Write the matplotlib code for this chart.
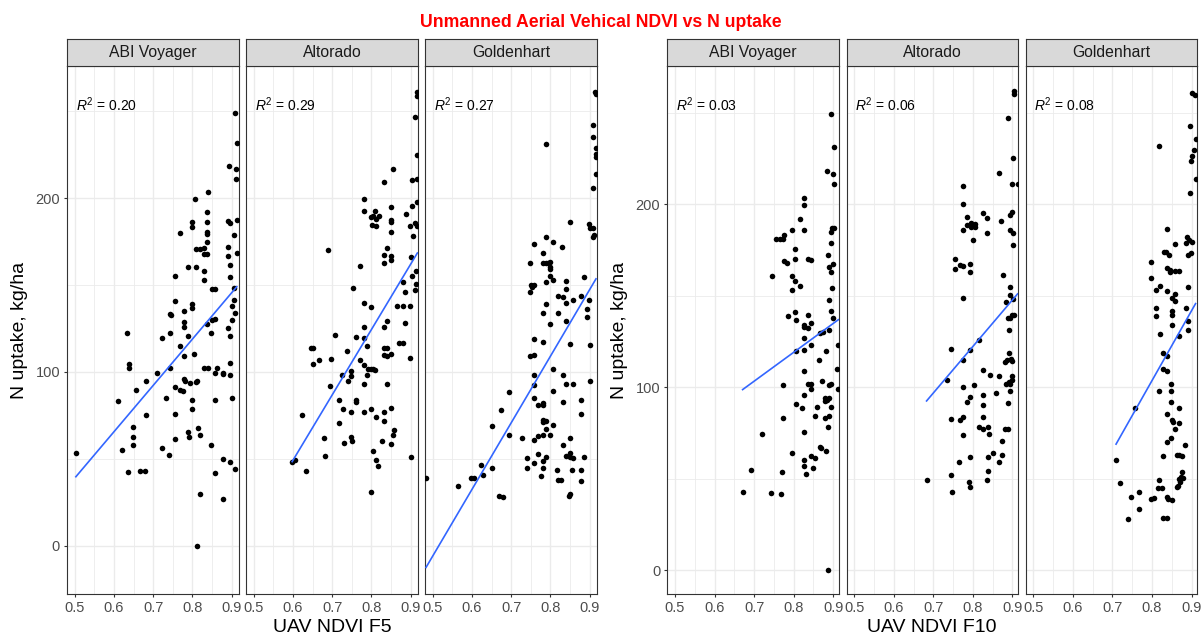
import matplotlib
matplotlib.use("Agg")
import matplotlib.pyplot as plt
import numpy as np

plt.rcParams['font.family'] = ['Liberation Sans', 'DejaVu Sans']
plt.rcParams['mathtext.fontset'] = 'custom'
plt.rcParams['mathtext.rm'] = 'Liberation Sans'
plt.rcParams['mathtext.it'] = 'Liberation Sans:italic'

cultivars = ['ABI Voyager', 'Altorado', 'Goldenhart']
r2_f5 = ['0.20', '0.29', '0.27']
r2_f10 = ['0.03', '0.06', '0.08']
x_ticks = [0.5, 0.6, 0.7, 0.8, 0.9]
x_tick_labels = ['0.5', '0.6', '0.7', '0.8', '0.9']
x_minor = [0.55, 0.65, 0.75, 0.85]
y_ticks = [0, 100, 200]
y_minor = [50, 150, 250]

# fitted N uptake at the lowest / highest NDVI of each cultivar (lm line)
fit_f5_lo = [39.7, 48.4, -12.5]
fit_f5_hi = [149.1, 168.5, 153.6]
fit_f10_lo = [98.6, 92.4, 68.8]
fit_f10_hi = [136.8, 150.9, 145.6]

# ---- NDVI at F5 vs N uptake (kg/ha) ----
abi_f5_ndvi = [0.908, 0.913, 0.894, 0.911, 0.911, 0.839, 0.807, 0.838, 0.891, 0.895,
               0.913, 0.798, 0.798, 0.836, 0.769, 0.836, 0.836, 0.907, 0.838, 0.890,
               0.808, 0.819, 0.830, 0.838, 0.830, 0.913, 0.890, 0.789, 0.808, 0.896,
               0.830, 0.756, 0.895, 0.830, 0.850, 0.858, 0.907, 0.756, 0.907, 0.798,
               0.798, 0.779, 0.902, 0.909, 0.743, 0.745, 0.779, 0.779, 0.850, 0.858,
               0.902, 0.838, 0.890, 0.634, 0.743, 0.722, 0.789, 0.848, 0.895, 0.769,
               0.779, 0.805, 0.638, 0.638, 0.709, 0.743, 0.830, 0.839, 0.863, 0.878,
               0.878, 0.895, 0.895, 0.858, 0.682, 0.779, 0.782, 0.793, 0.810, 0.812,
               0.657, 0.756, 0.768, 0.775, 0.611, 0.733, 0.798, 0.857, 0.902, 0.682,
               0.756, 0.798, 0.649, 0.649, 0.815, 0.789, 0.791, 0.820, 0.756, 0.649,
               0.620, 0.722, 0.848, 0.503, 0.740, 0.878, 0.895, 0.909, 0.637, 0.666,
               0.680, 0.858, 0.820, 0.878, 0.811]
abi_f5_n = [249.3, 231.7, 218.6, 216.7, 211, 203.8, 199.4, 191.9, 187, 185.6,
            187.4, 186.5, 183.6, 186.5, 180.2, 180.8, 179.4, 179, 175, 171.7,
            170.6, 170.8, 171.2, 168, 168, 168.3, 166.5, 160.6, 160.6, 161.6,
            158, 155, 154.5, 153, 147.6, 147.6, 148.5, 141, 141.2, 139,
            137, 135.2, 137.9, 134.2, 133.5, 133, 129, 125.8, 129.8, 130.4,
            129.8, 127.5, 125.6, 122.3, 122.7, 119.5, 120.7, 122.7, 120.9, 114.8,
            109.2, 110.2, 104.4, 102.5, 99.4, 102.5, 102.2, 102.2, 102.5, 99.6,
            98.6, 105.4, 98.4, 99.2, 94.8, 96, 94.6, 93.5, 94, 95,
            89.6, 91.5, 89.6, 89, 83.3, 84.8, 83.9, 83.9, 84.8, 75.2,
            75.8, 78.9, 68.2, 62.8, 67.6, 65.3, 62.4, 63.7, 61.2, 57.8,
            55.1, 56.2, 57.8, 53.5, 52.4, 49.7, 48, 44, 42.3, 42.8,
            42.8, 41.7, 29.8, 27, 0]

alt_f5_ndvi = [0.917, 0.915, 0.910, 0.915, 0.856, 0.903, 0.915, 0.832, 0.781, 0.851,
               0.915, 0.904, 0.887, 0.781, 0.809, 0.800, 0.805, 0.811, 0.820, 0.801,
               0.811, 0.851, 0.851, 0.851, 0.898, 0.910, 0.915, 0.907, 0.690, 0.840,
               0.832, 0.832, 0.851, 0.851, 0.902, 0.771, 0.914, 0.754, 0.881, 0.903,
               0.914, 0.885, 0.910, 0.781, 0.798, 0.864, 0.881, 0.898, 0.885, 0.832,
               0.840, 0.781, 0.707, 0.760, 0.781, 0.870, 0.881, 0.788, 0.832, 0.840,
               0.645, 0.651, 0.898, 0.832, 0.840, 0.851, 0.651, 0.666, 0.696, 0.738,
               0.771, 0.781, 0.792, 0.798, 0.805, 0.810, 0.788, 0.725, 0.749, 0.747,
               0.741, 0.840, 0.781, 0.694, 0.717, 0.760, 0.760, 0.728, 0.747, 0.781,
               0.800, 0.811, 0.832, 0.851, 0.622, 0.717, 0.832, 0.679, 0.750, 0.748,
               0.858, 0.855, 0.730, 0.826, 0.851, 0.681, 0.805, 0.811, 0.817, 0.902,
               0.598, 0.606, 0.634, 0.800]
alt_f5_n = [261, 258.7, 247, 224.7, 217, 210.5, 211, 209.4, 199.5, 195,
            198, 195.7, 191, 192.7, 192.9, 189, 190, 188, 190, 184.5,
            184, 187.4, 186.3, 180.8, 184, 186, 184, 178, 170, 171.6,
            167.6, 162.8, 167, 164.3, 166, 160.8, 158.4, 148.5, 152, 155,
            150.7, 146, 147, 139.7, 137.3, 138, 138, 138, 128, 126,
            129.6, 126, 121, 120.4, 119.3, 116.6, 116.6, 115, 114, 114,
            114, 114, 108, 110, 109, 110.5, 104.6, 107, 107.6, 112,
            106.8, 104, 102, 102, 102, 101, 98.4, 98.4, 100.6, 97.8,
            95, 93, 93, 91.8, 83.7, 84, 83, 78.6, 77, 77,
            78.6, 74, 76.9, 79, 75, 70.7, 71.6, 62, 60, 62.6,
            66.5, 64, 59.3, 60, 58.4, 51.8, 54.5, 49.6, 45.7, 51.2,
            47.9, 49.4, 42.8, 31]

gold_f5_ndvi = [0.914, 0.916, 0.908, 0.908, 0.915, 0.915, 0.915, 0.789, 0.915, 0.908,
                0.850, 0.897, 0.901, 0.908, 0.908, 0.911, 0.759, 0.789, 0.807, 0.830,
                0.780, 0.748, 0.780, 0.789, 0.795, 0.799, 0.799, 0.799, 0.799, 0.750,
                0.752, 0.759, 0.748, 0.789, 0.807, 0.840, 0.840, 0.886, 0.818, 0.831,
                0.840, 0.858, 0.878, 0.897, 0.892, 0.892, 0.780, 0.789, 0.818, 0.799,
                0.840, 0.850, 0.780, 0.900, 0.759, 0.748, 0.759, 0.807, 0.759, 0.831,
                0.900, 0.695, 0.858, 0.840, 0.807, 0.759, 0.759, 0.878, 0.769, 0.780,
                0.780, 0.831, 0.674, 0.878, 0.780, 0.780, 0.789, 0.789, 0.807, 0.650,
                0.695, 0.727, 0.759, 0.769, 0.780, 0.799, 0.850, 0.831, 0.769, 0.740,
                0.740, 0.759, 0.780, 0.780, 0.789, 0.840, 0.850, 0.850, 0.858, 0.886,
                0.623, 0.650, 0.776, 0.816, 0.818, 0.827, 0.854, 0.878, 0.878, 0.598,
                0.604, 0.629, 0.564, 0.483, 0.669, 0.680, 0.846, 0.850]
gold_f5_n = [261, 260, 242.3, 235, 229, 225.4, 223.6, 231.3, 213.7, 206,
             186.3, 185, 183, 183, 177.5, 178.6, 173.8, 177.5, 174.6, 172,
             168.3, 163, 163, 163, 162.5, 163.5, 160.4, 159.5, 155.5, 150,
             149, 150, 146, 151.6, 152.7, 152.2, 147.8, 154.4, 143.9, 143,
             139.7, 141.3, 144, 141.3, 136.2, 131.8, 134.2, 139, 134.2, 127.9,
             129.2, 116, 117, 115.6, 118.8, 109, 110, 102, 98.4, 98.4,
             95, 88.5, 93, 93, 89.2, 92.3, 85.2, 84, 81, 81,
             82, 82.6, 78, 75.8, 72.5, 71, 71.6, 67, 69.2, 68.8,
             64, 62.2, 60.6, 63.3, 64, 64, 62.2, 57.8, 52.7, 50.7,
             45, 47.5, 45, 49, 51.2, 51.8, 53.4, 51.2, 50.5, 51.2,
             46.4, 45, 40.2, 43.5, 38, 38, 43.5, 43.5, 37.3, 39.1,
             39.1, 40.6, 34.3, 38.7, 28.8, 28.1, 28.8, 29.9]

# ---- NDVI at F10 vs N uptake (kg/ha) ----
abi_f10_ndvi = [0.894, 0.902, 0.885, 0.899, 0.902, 0.825, 0.825, 0.816, 0.795, 0.825,
                0.898, 0.902, 0.894, 0.776, 0.756, 0.766, 0.773, 0.894, 0.803, 0.888,
                0.775, 0.784, 0.803, 0.837, 0.845, 0.900, 0.890, 0.745, 0.795, 0.803,
                0.894, 0.816, 0.795, 0.896, 0.890, 0.894, 0.786, 0.803, 0.805, 0.835,
                0.845, 0.825, 0.825, 0.899, 0.836, 0.875, 0.866, 0.890, 0.825, 0.845,
                0.913, 0.805, 0.825, 0.882, 0.865, 0.909, 0.825, 0.871, 0.835, 0.845,
                0.845, 0.890, 0.894, 0.911, 0.773, 0.825, 0.880, 0.884, 0.889, 0.880,
                0.805, 0.821, 0.860, 0.894, 0.773, 0.853, 0.880, 0.890, 0.887, 0.825,
                0.719, 0.866, 0.868, 0.883, 0.795, 0.845, 0.825, 0.825, 0.855, 0.849,
                0.692, 0.771, 0.832, 0.671, 0.742, 0.769, 0.887]
abi_f10_n = [249.3, 231, 218.3, 216.5, 210.7, 203.4, 199.4, 191.6, 186, 186,
             186.8, 187, 184.6, 182.9, 181, 181, 181, 178.9, 175.2, 172,
             168.9, 167.7, 170.1, 170, 169.5, 167.5, 165.7, 160.5, 160.5, 157.7,
             163, 155, 152.8, 154, 147.8, 141.5, 138.6, 140.8, 136.8, 139.5,
             135, 134, 132.8, 137.8, 132, 130, 129.5, 131.3, 127, 123.2,
             123, 119.5, 120.5, 119.5, 115, 109.7, 108.6, 103.3, 101.7, 101.4,
             99, 101.3, 101.5, 99, 101.3, 95.9, 94, 93, 94, 92.5,
             90.6, 88.6, 89, 89, 83, 84, 83, 84.4, 78.2, 75.3,
             74.1, 67.3, 66.8, 65.2, 63.7, 62.5, 60.1, 57, 61.3, 55.8,
             54.5, 53.4, 52.3, 42.8, 42, 41.6, 0]

alt_f10_ndvi = [0.903, 0.903, 0.889, 0.902, 0.865, 0.900, 0.913, 0.775, 0.775, 0.900,
                0.895, 0.826, 0.835, 0.785, 0.785, 0.796, 0.796, 0.805, 0.805, 0.775,
                0.870, 0.895, 0.902, 0.835, 0.800, 0.901, 0.754, 0.754, 0.767, 0.775,
                0.794, 0.794, 0.877, 0.895, 0.893, 0.775, 0.901, 0.885, 0.900, 0.905,
                0.890, 0.895, 0.891, 0.744, 0.815, 0.794, 0.775, 0.891, 0.880, 0.887,
                0.896, 0.898, 0.826, 0.844, 0.865, 0.900, 0.900, 0.735, 0.885, 0.895,
                0.891, 0.803, 0.775, 0.895, 0.826, 0.858, 0.794, 0.785, 0.890, 0.825,
                0.744, 0.767, 0.775, 0.826, 0.815, 0.826, 0.838, 0.775, 0.880, 0.890,
                0.840, 0.874, 0.766, 0.794, 0.838, 0.850, 0.865, 0.874, 0.744, 0.683,
                0.790, 0.792, 0.835, 0.838, 0.748]
alt_f10_n = [262, 260, 247, 225.3, 216.9, 210.7, 210.7, 209.6, 199.8, 195.5,
             194, 195.2, 192.5, 192.8, 188.8, 189.5, 187.5, 189, 187.5, 185.6,
             191, 186, 184, 184, 180.5, 177.8, 169.8, 164.7, 166.7, 166.2,
             167, 163, 161, 154.7, 150.5, 148.9, 148, 146.5, 139.3, 139.3,
             137.6, 137.8, 131, 121, 125.5, 120.5, 114.6, 118.8, 113.5, 115,
             115.5, 114, 109.2, 106.7, 105.8, 105.8, 104, 104, 101.5, 101.5,
             102.5, 101, 100, 98, 95.9, 97, 94.4, 91.6, 91.4, 90.2,
             82.4, 81.9, 83.7, 83.5, 78.4, 77, 78.4, 73.7, 76.8, 76.8,
             74.2, 70.6, 58.8, 61.5, 61.5, 64, 59.3, 62.8, 51.9, 49.1,
             48, 45.5, 49.1, 54.3, 42.8]

gold_f10_ndvi = [0.900, 0.909, 0.896, 0.910, 0.906, 0.902, 0.898, 0.818, 0.910, 0.896,
                 0.839, 0.889, 0.894, 0.900, 0.886, 0.890, 0.898, 0.858, 0.830, 0.836,
                 0.844, 0.797, 0.797, 0.837, 0.845, 0.846, 0.858, 0.868, 0.820, 0.809,
                 0.837, 0.858, 0.851, 0.857, 0.890, 0.809, 0.809, 0.850, 0.850, 0.885,
                 0.892, 0.850, 0.820, 0.868, 0.890, 0.828, 0.839, 0.828, 0.837, 0.817,
                 0.848, 0.848, 0.848, 0.758, 0.868, 0.838, 0.850, 0.852, 0.868, 0.858,
                 0.848, 0.837, 0.883, 0.709, 0.828, 0.862, 0.868, 0.875, 0.817, 0.816,
                 0.824, 0.718, 0.746, 0.767, 0.767, 0.740, 0.797, 0.805, 0.837, 0.841,
                 0.850, 0.828, 0.839, 0.866, 0.872, 0.875, 0.868, 0.877, 0.871, 0.864]
gold_f10_n = [260.5, 259.8, 242.5, 235.3, 229.3, 226.5, 223.4, 231.6, 213.8, 206.2,
              186.5, 182, 180.5, 179, 178.5, 172, 173.5, 177.9, 173.7, 174,
              172, 168.3, 159.8, 165, 164, 163, 163.5, 163.5, 155.2, 152.8,
              152.4, 150.7, 148.4, 147, 154.7, 143.4, 138.8, 141.6, 139.4, 143.4,
              136, 133.8, 129.2, 127.8, 131, 118.8, 117, 110, 108.8, 97.9,
              101.6, 97.9, 91.9, 88.8, 88.3, 85, 82, 81, 80.3, 77.3,
              71.9, 69.7, 68.2, 60, 62.4, 63, 63, 62.5, 49.1, 45,
              45, 47.3, 40, 42.4, 33.3, 27.7, 38.9, 39.3, 40, 39,
              38.3, 28.2, 28.2, 45.8, 51, 53.8, 50, 50.4, 48, 45.4]

W, H = 1201, 640
fig = plt.figure(figsize=(W / 100, H / 100), dpi=100)

GRID = '#EBEBEB'
EDGE = '#333333'


def px_box(left, top, width, height):
    return [left / W, 1 - (top + height) / H, width / W, height / H]


def draw_panel(ax, x, y, fit_lo, fit_hi, r2, xlim, ylim, first):
    x = np.asarray(x)
    y = np.asarray(y)
    ax.set_xlim(xlim)
    ax.set_ylim(ylim)
    ax.set_xticks(x_ticks)
    ax.set_xticklabels(x_tick_labels)
    ax.set_xticks(x_minor, minor=True)
    ax.set_yticks(y_ticks)
    ax.set_yticks(y_minor, minor=True)
    ax.set_axisbelow(True)
    ax.grid(which='major', color=GRID, lw=1.0)
    ax.grid(which='minor', color=GRID, lw=0.6)
    ax.tick_params(which='minor', length=0)
    ax.tick_params(which='major', length=2.5, width=0.8, color=EDGE,
                   labelsize=10.5, labelcolor='#4D4D4D', pad=2.5)
    if not first:
        ax.tick_params(axis='y', which='both', left=False, labelleft=False)
    for s in ax.spines.values():
        s.set_color(EDGE)
        s.set_linewidth(0.8)

    ax.scatter(x, y, s=16, color='black', linewidths=0, zorder=3)

    # lm line spanning the observed NDVI range
    ax.plot([x.min(), x.max()], [fit_lo, fit_hi], color='#3366FF', lw=1.2, zorder=4)

    ax.text(0.05, 0.927, r'$R^2$ = ' + r2, transform=ax.transAxes,
            ha='left', va='center', fontsize=10, color='black')


groups = [
    dict(xlabel='UAV NDVI F5', lefts=[67, 246, 425], width=172,
         xlim=(0.4804, 0.9186), ylim=(-27.8, 276.3), r2=r2_f5, ylab_x=20,
         fit_lo=fit_f5_lo, fit_hi=fit_f5_hi,
         data=[(abi_f5_ndvi, abi_f5_n), (alt_f5_ndvi, alt_f5_n),
               (gold_f5_ndvi, gold_f5_n)]),
    dict(xlabel='UAV NDVI F10', lefts=[667.3, 846.5, 1025.7], width=171.3,
         xlim=(0.4806, 0.9136), ylim=(-13.1, 275.6), r2=r2_f10, ylab_x=620,
         fit_lo=fit_f10_lo, fit_hi=fit_f10_hi,
         data=[(abi_f10_ndvi, abi_f10_n), (alt_f10_ndvi, alt_f10_n),
               (gold_f10_ndvi, gold_f10_n)]),
]

panel_top, panel_bottom, strip_top = 65.7, 594.0, 39.3

for g in groups:
    for i, name in enumerate(cultivars):
        xv, yv = g['data'][i]
        left = g['lefts'][i]
        ax = fig.add_axes(px_box(left, panel_top, g['width'], panel_bottom - panel_top))
        draw_panel(ax, xv, yv, g['fit_lo'][i], g['fit_hi'][i], g['r2'][i],
                   g['xlim'], g['ylim'], i == 0)

        sax = fig.add_axes(px_box(left, strip_top, g['width'], panel_top - strip_top))
        sax.set_facecolor('#D9D9D9')
        sax.set_xticks([])
        sax.set_yticks([])
        for s in sax.spines.values():
            s.set_color(EDGE)
            s.set_linewidth(0.8)
        sax.text(0.5, 0.5, name, ha='center', va='center', fontsize=11.3,
                 color='#1A1A1A', transform=sax.transAxes)

    x_mid = (g['lefts'][0] + g['lefts'][-1] + g['width']) / 2
    fig.text(x_mid / W, 1 - 627 / H, g['xlabel'], ha='center', va='center',
             fontsize=14, color='black')
    fig.text(g['ylab_x'] / W, 1 - 330 / H, 'N uptake, kg/ha', rotation=90,
             ha='center', va='center', fontsize=14, color='black')

fig.text(0.5, 1 - 22.7 / H, 'Unmanned Aerial Vehical NDVI vs N uptake',
         ha='center', va='center', fontsize=12.7, fontweight='bold', color='red')

fig.savefig('out.png', dpi=100)
